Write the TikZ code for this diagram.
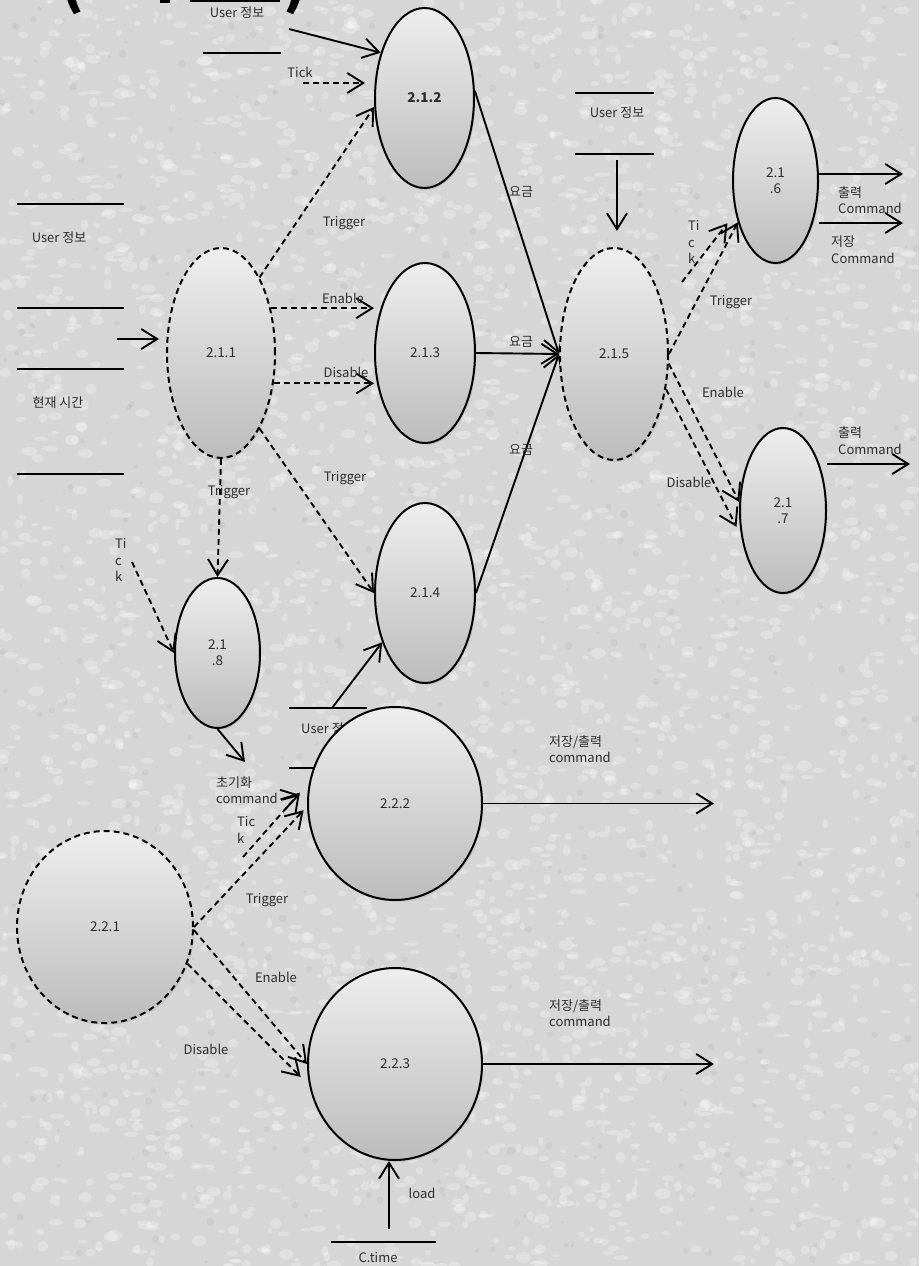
\documentclass[tikz,border=0pt]{standalone}
\usepackage{fontspec}
\setmainfont{Noto Sans CJK KR}
\usetikzlibrary{arrows.meta,shapes.geometric,shadows,calc}
\pgfdeclarelayer{back}
\pgfdeclarelayer{fore}
\pgfsetlayers{back,main,fore}
\definecolor{paper}{RGB}{214,214,214}
\definecolor{ink}{RGB}{45,45,45}
\definecolor{shadetop}{RGB}{238,238,238}
\definecolor{shadebot}{RGB}{188,188,188}

\tikzset{
  proc/.style={ellipse, draw=black, line width=2pt, top color=shadetop,
    bottom color=shadebot, inner sep=0pt, text=ink, align=center,
    font=\fontsize{13.5}{16}\selectfont,
    drop shadow={shadow xshift=1.5pt, shadow yshift=-2pt, opacity=0.18}},
  ctrl/.style={proc, dash pattern=on 6pt off 4pt},
  flow/.style={line width=1.9pt, -{Straight Barb[length=16pt,width=20pt]}},
  sig/.style={flow, dash pattern=on 6pt off 4pt},
  lbl/.style={text=ink, font=\fontsize{13}{16.5}\selectfont, inner sep=0pt, align=left},
  store/.style={line width=2pt},
}

\begin{document}
\begin{tikzpicture}[x=1pt,y=-1pt]
\useasboundingbox (0,0) rectangle (919,1266);
\begin{pgfonlayer}{back}
  \fill[paper] (0,0) rectangle (919,1266);
  % mottled paper texture
  \begin{scope}
    \clip (0,0) rectangle (919,1266);
    \pgfmathsetseed{7}
    \foreach \i in {1,...,3600} {
      \pgfmathsetmacro{\px}{919*rnd}
      \pgfmathsetmacro{\py}{1266*rnd}
      \pgfmathsetmacro{\pr}{2+6*rnd}
      \pgfmathsetmacro{\pq}{1.5+4*rnd}
      \fill[white, opacity=0.26] (\px,\py) ellipse [x radius=\pr, y radius=\pq];
    }
    \foreach \i in {1,...,500} {
      \pgfmathsetmacro{\px}{919*rnd}
      \pgfmathsetmacro{\py}{1266*rnd}
      \pgfmathsetmacro{\pr}{1+3*rnd}
      \fill[black, opacity=0.04] (\px,\py) circle [radius=\pr];
    }
  \end{scope}
\end{pgfonlayer}

% title, mostly above the page edge
\node[font=\fontsize{60}{60}\selectfont\bfseries, anchor=base, inner sep=0pt] (tl) at (72,2) {(};
\node[font=\fontsize{60}{60}\selectfont\bfseries, anchor=base, inner sep=0pt] (tr) at (295,2) {)};
\fill (160,0) rectangle (170,3);

% processes
\begin{pgfonlayer}{fore}
  \node[proc, minimum width=99pt, minimum height=180pt, font=\fontsize{13.5}{16}\selectfont\bfseries] (p212) at (424.5,98) {2.1.2};
  \node[ctrl, minimum width=108pt, minimum height=210pt] (p211) at (221,353) {2.1.1};
  \node[proc, minimum width=100pt, minimum height=180pt] (p213) at (425,353) {2.1.3};
  \node[proc, minimum width=100pt, minimum height=180pt] (p214) at (425,593) {2.1.4};
  \node[ctrl, minimum width=108pt, minimum height=212pt] (p215) at (614,354) {2.1.5};
  \node[proc, minimum width=85pt, minimum height=165pt] (p216) at (775.5,180.5) {2.1\\.6};
  \node[proc, minimum width=86pt, minimum height=165pt] (p217) at (783,510.5) {2.1\\.7};
  \node[proc, minimum width=85pt, minimum height=150pt] (p218) at (217.5,653) {2.1\\.8};
  \node[ctrl, minimum width=176pt, minimum height=192pt] (p221) at (105,927) {2.2.1};
  \node[proc, minimum width=174pt, minimum height=193pt] (p222) at (395,803.5) {2.2.2};
  \node[proc, minimum width=174pt, minimum height=192pt] (p223) at (395,1064) {2.2.3};
\end{pgfonlayer}

% data stores
\draw[store] (190,1) -- (280,1);
\draw[store] (203,53) -- (281,53);
\node[lbl] (s1) at (237,13) {User 정보};

\draw[store] (17,204) -- (124,204);
\draw[store] (17,308) -- (124,308);
\node[lbl] (s2) at (59,238) {User 정보};
\draw[store] (17,369) -- (124,369);
\draw[store] (17,474) -- (124,474);
\node[lbl] (s3) at (58,403) {현재 시간};

\draw[store] (575,93) -- (654,93);
\draw[store] (575,154) -- (654,154);
\node[lbl] (s4) at (617,113) {User 정보};

\draw[store] (289,708) -- (367,708);
\draw[store] (289,768) -- (315,768);
\node[lbl, anchor=west] (s5) at (301,729) {User 정보};

\draw[store] (331,1242) -- (436,1242);
\node[lbl] (s6) at (378,1258) {C.time};

% free ends of connectors
\coordinate (u1s) at (289,29);
\coordinate (tk1) at (303,83);
\coordinate (in211) at (117,339);
\coordinate (u2s) at (617,160);
\coordinate (tk6) at (682,282);
\coordinate (o216a) at (903,174);
\coordinate (o216b) at (903,223);
\coordinate (o217) at (910,464);
\coordinate (tk8) at (132,562);
\coordinate (init) at (245,762);
\coordinate (ic) at (281,800);
\coordinate (u3s) at (332,708);
\coordinate (tk2) at (243,857);
\coordinate (o222) at (714,803.5);
\coordinate (o223) at (714,1064);
\coordinate (ct) at (389,1229);

% level 2.1 connectors
\draw[flow] (u1s) -- (p212.134);
\draw[sig, shorten >=9pt] (tk1) -- (tk1 -| p212.west);
\draw[sig] (p211.63) -- (p212.190);
\draw[sig] (p211.42) -- (p211.42 -| p213.west);
\draw[sig] (p211.330) -- (p211.330 -| p213.west);
\draw[sig] (p211.297) -- (p214.west);
\draw[sig] (p211.south) -- (p218.north);
\draw[flow, shorten >=7pt] (in211) -- (in211 -| p211.west);
\draw[flow] (p212.8) -- (p215.west);
\draw[flow] (p213.east) -- (p215.west);
\draw[flow] (p214.east) -- (p215.west);
\draw[flow, shorten >=16pt] (u2s) -- (u2s |- p215.north);
\draw[sig, shorten >=13pt] (tk6) -- (p216.219);
\draw[sig] (p215.east) -- (p216.228);
\draw[flow] (p216.east |- o216a) -- (o216a);
\draw[flow] (p216.east |- o216b) -- (o216b);
\draw[sig] (p215.350) -- (p217.169);
\draw[sig, shorten >=10pt] (p215.326) -- (p217.211);
\draw[flow] (p217.east |- o217) -- (o217);
\draw[sig] (tk8) -- (p218.west);
\draw[flow] (p218.south) -- (init);
\draw[flow] (u3s) -- (p214.229);

% level 2.2 connectors
\draw[flow] (p222.east) -- (o222);
\draw[flow] (p223.east) -- (o223);
\draw[flow] (ct) -- (ct |- p223.south);
\draw[flow, shorten >=8pt] (ic) -- (p222.173);
\draw[sig, shorten >=5pt] (p221.east) -- (p222.182);
\draw[sig, shorten >=14pt] (tk2) -- (p222.166);
\draw[sig] (p221.358) -- (p223.west);
\draw[sig, shorten >=12pt] (p221.336) -- (p223.194);

% flow labels
\node[lbl] (l1) at (300,72) {Tick};
\node[lbl] (l2) at (344,223) {Trigger};
\node[lbl] (l3) at (343,298) {Enable};
\node[lbl] (l4) at (346,372) {Disable};
\node[lbl] (l5) at (345,478) {Trigger};
\node[lbl] (l6) at (229,492) {Trigger};
\node[lbl, anchor=west] (l7) at (115,560) {Ti\\c\\k};
\node[lbl] (l8) at (521,192) {요금};
\node[lbl] (l9) at (521,342) {요금};
\node[lbl] (l10) at (521,450) {요금};
\node[lbl, anchor=west] (l11) at (688,242) {Ti\\c\\k};
\node[lbl] (l12) at (731,302) {Trigger};
\node[lbl, anchor=west] (l13) at (838,200) {출력\\Command};
\node[lbl, anchor=west] (l14) at (831,249.5) {저장\\Command};
\node[lbl] (l15) at (723,392) {Enable};
\node[lbl] (l16) at (689,482) {Disable};
\node[lbl, anchor=west] (l17) at (838,440.5) {출력\\Command};
\node[lbl, anchor=west] (l18) at (549,749) {저장/출력\\command};
\node[lbl, anchor=west] (l19) at (549,1013) {저장/출력\\command};
\node[lbl, anchor=west] (l20) at (216,790) {초기화\\command};
\node[lbl, anchor=west] (l21) at (237,830) {Tic\\k};
\node[lbl] (l22) at (267,900) {Trigger};
\node[lbl] (l23) at (276,977) {Enable};
\node[lbl] (l24) at (206,1049) {Disable};
\node[lbl] (l25) at (422,1193) {load};
\end{tikzpicture}
\end{document}
